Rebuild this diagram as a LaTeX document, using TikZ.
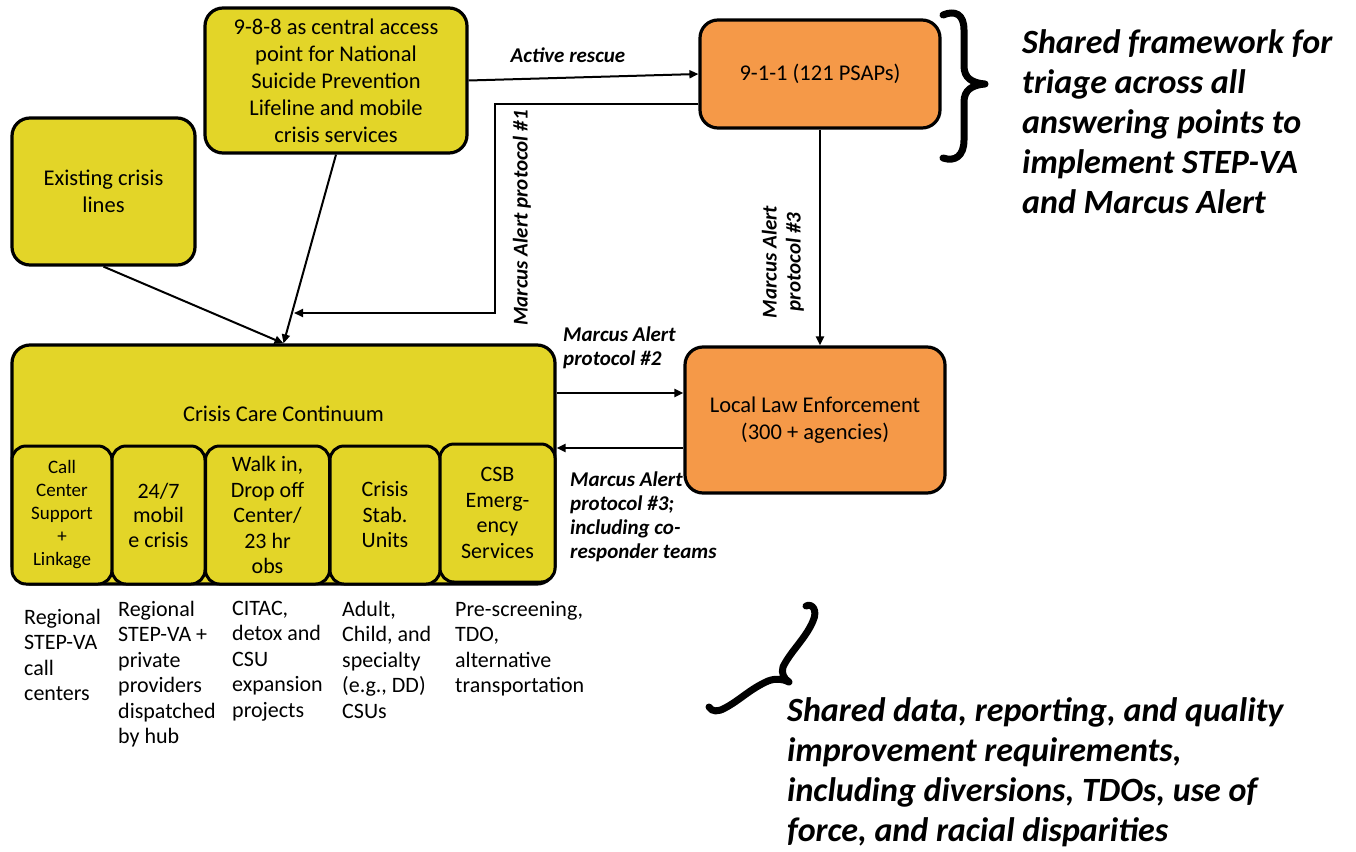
\documentclass[tikz,border=0pt]{standalone}
\usepackage{fontspec}
\setmainfont{Carlito}
\usetikzlibrary{arrows.meta,calc}
\definecolor{cyellow}{RGB}{227,213,40}
\definecolor{corange}{RGB}{245,153,72}
\newcommand{\fsz}[2]{\fontsize{#1pt}{#2pt}\selectfont}

\begin{document}
\begin{tikzpicture}[x=1pt,y=-1pt,
  box/.style={draw=black, line width=3.2pt, rounded corners=18pt, align=center, inner sep=0pt,
              font=\fsz{22.5}{27}},
  ybox/.style={box, fill=cyellow},
  obox/.style={box, fill=corange},
  subbox/.style={draw=black, line width=3pt, rounded corners=14pt, fill=cyellow, align=center,
                 inner sep=0pt, minimum height=138pt},
  arr/.style={line width=2pt, -{Triangle[length=9pt,width=8pt]}},
  lbl/.style={font=\fsz{21}{24}\bfseries\itshape, align=left, inner sep=0pt},
  desc/.style={font=\fsz{22}{25.5}, align=left, inner sep=0pt, anchor=north west},
  note/.style={font=\fsz{34}{40}\bfseries\itshape, align=left, inner sep=0pt, anchor=north west},
  bracestroke/.style={line width=7pt, line cap=round, line join=round}
]
\useasboundingbox (0,0) rectangle (1356,851);

% ---- answering points ----
\node[ybox, minimum width=262pt, minimum height=145pt] (c988) at (336,80.5)
  {9-8-8 as central access\\point for National\\Suicide Prevention\\Lifeline and mobile\\crisis services};
\node[ybox, minimum width=183pt, minimum height=147pt] (exist) at (103.5,191.5)
  {Existing crisis\\lines};
\node[obox, minimum width=240pt, minimum height=108pt] (n911) at (820,74)
  {9-1-1 (121 PSAPs)};
\node[obox, minimum width=260pt, minimum height=146pt] (lle) at (815,420)
  {Local Law Enforcement\\(300 + agencies)};

% ---- crisis care continuum with its services ----
\node[ybox, minimum width=543pt, minimum height=239pt] (ccc) at (283.5,464.5) {};
\node[font=\fsz{22.5}{27}, inner sep=0pt] (ccctitle) at (283.5,414) {Crisis Care Continuum};
\node[subbox, minimum width=100pt, font=\fsz{19}{23}] (s1) at (62,515)
  {Call\\Center\\Support\\+\\Linkage};
\node[subbox, minimum width=93pt, font=\fsz{22}{24.5}] (s2) at (158.5,515)
  {24/7\\mobil\\e crisis};
\node[subbox, minimum width=124pt, font=\fsz{22}{25.5}] (s3) at (267.5,515)
  {Walk in,\\Drop off\\Center/\\23 hr\\obs};
\node[subbox, minimum width=110pt, font=\fsz{22}{25.5}] (s4) at (385,515)
  {Crisis\\Stab.\\Units};
\node[subbox, minimum width=115pt, font=\fsz{22}{25.5}] (s5) at (497.5,513)
  {CSB\\Emerg-\\ency\\Services};

% ---- service descriptions ----
\node[desc] (d1) at (24,609) {Regional\\STEP-VA\\call\\centers};
\node[desc] (d2) at (118,601) {Regional\\STEP-VA +\\private\\providers\\dispatched\\by hub};
\node[desc] (d3) at (232,601) {CITAC,\\detox and\\CSU\\expansion\\projects};
\node[desc] (d4) at (342,601) {Adult,\\Child, and\\specialty\\(e.g., DD)\\CSUs};
\node[desc] (d5) at (455,601) {Pre-screening,\\TDO,\\alternative\\transportation};

% ---- connectors ----
\coordinate (y393) at (0,393);
\coordinate (y448) at (0,448);
\coordinate (p1end) at (294,313);

\draw[arr] (c988.east) -- (n911.west);
\draw[arr] ([yshift=-30pt]n911.west) -- ++(-203,0) |- (p1end);
\draw[arr] (c988.south) -- (ccc.north);
\draw[arr] (exist.south) -- (ccc.north);
\draw[arr] (n911.south) -- (n911.south |- lle.north);
\draw[arr] (ccc.east |- y393) -- (lle.west |- y393);
\draw[arr] (lle.west |- y448) -- (ccc.east |- y448);

% ---- connector labels ----
\node[lbl] (lar) at (568,55) {Active rescue};
\node[lbl, rotate=90] (lp1) at (522,218) {Marcus Alert protocol \#1};
\node[lbl, rotate=90, align=center] (lp3a) at (783,262) {Marcus Alert\\protocol \#3};
\node[lbl, anchor=north west] (lp2) at (563,327) {Marcus Alert\\protocol \#2};
\node[lbl, anchor=north west] (lp3b) at (570,472)
  {Marcus Alert\\protocol \#3;\\including co-\\responder teams};

% ---- braces and notes ----
\draw[bracestroke] (943,15) .. controls (955,10) and (964,14) .. (964,30)
  -- (964,66) .. controls (964,78) and (972,83) .. (985,84)
  .. controls (972,85) and (964,90) .. (964,102)
  -- (964,140) .. controls (964,156) and (955,162) .. (943,158);
\node[note] (fw) at (1022,29)
  {Shared framework for\\triage across all\\answering points to\\implement STEP-VA\\and Marcus Alert};

\draw[bracestroke] (806,606) .. controls (812,603) and (818,610) .. (813,621)
  .. controls (806,638) and (790,652) .. (783,667)
  .. controls (781,673) and (784,679) .. (789,682)
  .. controls (783,679) and (776,678) .. (768,681)
  .. controls (750,689) and (740,700) .. (725,708)
  .. controls (718,712) and (712,712) .. (709,707);
\node[note] (sd) at (787,697)
  {Shared data, reporting, and quality\\improvement requirements,\\including diversions, TDOs, use of\\force, and racial disparities};
\end{tikzpicture}
\end{document}
